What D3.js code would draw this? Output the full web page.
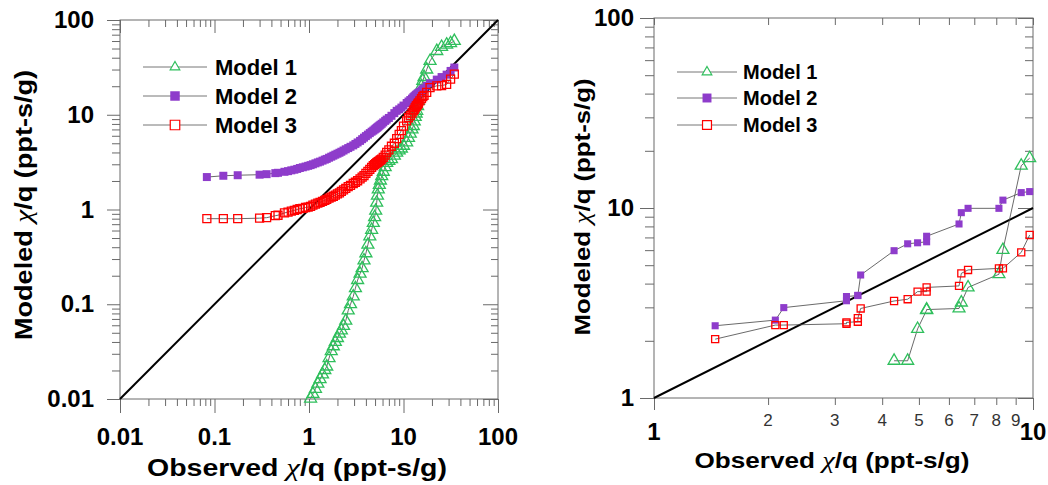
<!DOCTYPE html>
<html>
<head>
<meta charset="utf-8">
<script src="https://cdn.jsdelivr.net/npm/d3@7"></script>
<style>
  body { margin: 0; background: #fff; }
  text { font-family: "Liberation Sans", Arial, sans-serif; }
</style>
</head>
<body>
<div id="chart"></div>
<script>
// ---- data ----
var seriesNames = ["Model 1", "Model 2", "Model 3"];

// left panel: all data, sorted observed vs sorted modeled
var leftObserved = [0.083, 0.124, 0.176, 0.30, 0.356, 0.44, 0.47, 0.55, 0.60, 0.65,
  0.70, 0.75, 0.80, 0.86, 0.92, 0.98, 1.04, 1.10, 1.17, 1.24,
  1.31, 1.39, 1.47, 1.54, 1.63, 1.72, 1.81, 1.90, 2.0, 2.1,
  2.2, 2.32, 2.45, 2.6, 2.75, 2.94, 3.1, 3.27, 3.47, 3.65,
  3.82, 4.0, 4.2, 4.4, 4.6, 4.79, 4.95, 5.08, 5.2, 5.3,
  5.41, 5.55, 5.7, 5.88, 6.11, 6.4, 6.64, 7.0, 7.46, 8.0,
  8.47, 9.0, 9.5, 10.0, 10.8, 11.3, 11.8, 12.3, 12.7, 13.0,
  13.3, 13.6, 13.8, 14.1, 14.4, 14.9, 15.5, 16.0, 16.5, 17.6,
  19.1, 22.5, 25.3, 28.6, 31.5, 34.5];
var leftModel1 = [null, null, null, null, null, null, null, null, null, null,
  null, null, null, null, null, null, 0.0101, 0.0113, 0.0128, 0.0145,
  0.0162, 0.0182, 0.0202, 0.022, 0.027, 0.032, 0.036, 0.040, 0.044, 0.049,
  0.053, 0.059, 0.067, 0.086, 0.100, 0.121, 0.148, 0.180, 0.210, 0.240,
  0.290, 0.345, 0.425, 0.52, 0.61, 0.72, 0.83, 0.97, 1.18, 1.40,
  1.63, 1.82, 2.02, 2.25, 2.5, 2.8, 3.1, 3.25, 3.4, 3.7,
  3.98, 4.2, 4.4, 4.7, 5.1, 5.7, 6.3, 7.0, 7.6, 8.5,
  9.5, 10.3, 11.0, 12.3, 14.0, 17.0, 20.0, 22.8, 25.0, 30.0,
  37.0, 47.0, 52.0, 55.0, 57.0, 60.0];
var leftModel2 = [2.20, 2.27, 2.30, 2.33, 2.36, 2.42, 2.44, 2.50, 2.54, 2.59,
  2.63, 2.68, 2.74, 2.79, 2.84, 2.89, 2.94, 3.00, 3.07, 3.14,
  3.20, 3.28, 3.36, 3.42, 3.52, 3.61, 3.70, 3.79, 3.88, 3.97,
  4.07, 4.19, 4.32, 4.45, 4.59, 4.75, 4.92, 5.10, 5.30, 5.52,
  5.73, 5.95, 6.17, 6.40, 6.62, 6.80, 6.98, 7.12, 7.26, 7.37,
  7.50, 7.66, 7.83, 8.03, 8.30, 8.62, 8.90, 9.25, 9.75, 10.4,
  11.0, 11.4, 11.9, 12.5, 13.3, 13.8, 14.3, 14.8, 15.3, 15.6,
  15.9, 16.2, 16.4, 16.7, 17.0, 17.4, 18.0, 18.5, 19.0, 20.2,
  21.5, 23.5, 25.0, 26.5, 29.0, 31.5];
var leftModel3 = [0.80, 0.80, 0.80, 0.81, 0.82, 0.86, 0.87, 0.92, 0.94, 0.96,
  0.98, 1.00, 1.02, 1.03, 1.05, 1.06, 1.08, 1.11, 1.14, 1.17,
  1.19, 1.22, 1.25, 1.28, 1.32, 1.35, 1.38, 1.42, 1.46, 1.50,
  1.55, 1.61, 1.67, 1.74, 1.80, 1.88, 1.94, 2.01, 2.10, 2.20,
  2.28, 2.40, 2.52, 2.65, 2.78, 2.90, 2.98, 3.05, 3.10, 3.14,
  3.20, 3.26, 3.33, 3.40, 3.55, 3.75, 4.00, 4.25, 4.65, 5.00,
  5.60, 6.20, 6.80, 7.60, 8.60, 9.30, 9.80, 10.4, 11.0, 11.4,
  11.9, 12.3, 12.5, 12.9, 13.3, 14.0, 14.8, 15.5, 16.0, 17.2,
  19.3, 20.2, 20.3, 20.9, 23.8, 26.8];

// right panel: subset 1 - 10
var rightObserved = [1.45, 2.09, 2.2, 3.22, 3.22, 3.45, 3.45, 3.51, 4.3, 4.67,
  4.96, 5.24, 5.24, 6.38, 6.47, 6.74, 8.13, 8.33, 9.31, 9.8];
var rightModel1 = [null, null, null, null, null, null, null, null, 1.57, 1.57,
  2.31, 2.90, 2.92, 2.96, 3.18, 3.82, 4.48, 6.01, 16.7, 18.3];
var rightModel2 = [2.40, 2.57, 2.99, 3.25, 3.42, 3.46, 3.47, 4.44, 5.96, 6.48,
  6.56, 6.64, 7.10, 8.24, 9.45, 9.96, 9.96, 11.0, 12.05, 12.2];
var rightModel3 = [2.04, 2.42, 2.42, 2.46, 2.50, 2.52, 2.63, 2.96, 3.24, 3.31,
  3.63, 3.63, 3.82, 3.89, 4.53, 4.72, 4.81, 4.81, 5.84, 7.21];

var leftTicks = [0.01, 0.1, 1, 10, 100];
var leftTickLabels = ["0.01", "0.1", "1", "10", "100"];
var rightYTicks = [1, 10, 100];
var rightYTickLabels = ["1", "10", "100"];
var rightXTicks = [1, 10];
var rightXTickLabels = ["1", "10"];
var rightXMinor = [2, 3, 4, 5, 6, 7, 8, 9];
var rightXMinorLabels = ["2", "3", "4", "5", "6", "7", "8", "9"];

var colors = ["#2fbf5c", "#8e3ccb", "#ff0000"];
var frameColor = "#6a6a6a";

var svg = d3.select("#chart").append("svg")
    .attr("width", 1048)
    .attr("height", 485);

svg.append("rect").attr("width", 1048).attr("height", 485).attr("fill", "#fff");

function minorsOf(scale, majors) {
    return scale.ticks().filter(function (t) {
        return majors.indexOf(t) < 0;
    });
}

function drawFrame(g, x, y, xMajor, yMajor, tk) {
    var x0 = x.range()[0], x1 = x.range()[1];
    var y0 = y.range()[0], y1 = y.range()[1];
    var xMinor = minorsOf(x, xMajor), yMinor = minorsOf(y, yMajor);

    var axes = [
        { ax: d3.axisBottom(x), tr: "translate(0," + y0 + ")", maj: tk.bMaj, min: tk.bMin, vals: [xMajor, xMinor] },
        { ax: d3.axisTop(x), tr: "translate(0," + y1 + ")", maj: -tk.tMaj, min: -tk.tMin, vals: [xMajor, xMinor] },
        { ax: d3.axisLeft(y), tr: "translate(" + x0 + ",0)", maj: tk.lMaj, min: tk.lMin, vals: [yMajor, yMinor] },
        { ax: d3.axisRight(y), tr: "translate(" + x1 + ",0)", maj: -tk.rMaj, min: -tk.rMin, vals: [yMajor, yMinor] }
    ];
    axes.forEach(function (a) {
        [0, 1].forEach(function (i) {
            var ax = g.append("g").attr("transform", a.tr)
                .call(a.ax.tickValues(a.vals[i]).tickSize(i === 0 ? a.maj : a.min)
                    .tickFormat("").tickSizeOuter(0));
            ax.select(".domain").remove();
            ax.selectAll("line").attr("stroke", frameColor);
        });
    });

    g.append("rect")
        .attr("x", x0).attr("y", y1)
        .attr("width", x1 - x0).attr("height", y0 - y1)
        .attr("fill", "none")
        .attr("stroke", frameColor)
        .attr("stroke-width", 1);
}

function markerPath(i, size) {
    if (i === 0) return d3.symbol().type(d3.symbolTriangle).size(size.tri)();
    return d3.symbol().type(d3.symbolSquare).size(size.sq)();
}

function drawSeries(g, x, y, obs, models, size) {
    var line = d3.line()
        .defined(function (d) { return d[1] != null; })
        .x(function (d) { return x(d[0]); })
        .y(function (d) { return y(d[1]); });

    models.forEach(function (vals, i) {
        var pts = obs.map(function (o, k) { return [o, vals[k]]; });
        g.append("path")
            .datum(pts)
            .attr("d", line)
            .attr("fill", "none")
            .attr("stroke", "#444")
            .attr("stroke-width", 0.8);

        g.selectAll(".m" + i)
            .data(pts.filter(function (d) { return d[1] != null; }))
            .enter().append("path")
            .attr("transform", function (d) {
                return "translate(" + x(d[0]) + "," + y(d[1]) + ")";
            })
            .attr("d", markerPath(i, size))
            .attr("fill", i === 1 ? colors[1] : "none")
            .attr("stroke", colors[i])
            .attr("stroke-width", i === 1 ? 0 : 1.3);
    });
}

function drawLegend(g, lx0, lx1, tx, rows, fs, size) {
    seriesNames.forEach(function (name, i) {
        var yy = rows[i];
        g.append("line")
            .attr("x1", lx0).attr("x2", lx1)
            .attr("y1", yy).attr("y2", yy)
            .attr("stroke", "#777").attr("stroke-width", 1);
        g.append("path")
            .attr("transform", "translate(" + ((lx0 + lx1) / 2) + "," + yy + ")")
            .attr("d", markerPath(i, size))
            .attr("fill", i === 1 ? colors[1] : "#fff")
            .attr("stroke", colors[i])
            .attr("stroke-width", i === 1 ? 0 : 1.2);
        g.append("text")
            .attr("x", tx).attr("y", yy + fs * 0.36)
            .attr("font-size", fs + "px")
            .attr("font-weight", "bold")
            .attr("fill", "#000")
            .text(name);
    });
}

function title(g, x, y, rot, len, fs, first) {
    var t = g.append("text")
        .attr("transform", "translate(" + x + "," + y + ")" + (rot ? " rotate(-90)" : ""))
        .attr("text-anchor", "middle")
        .attr("font-size", fs + "px")
        .attr("font-weight", "bold")
        .attr("fill", "#000")
        .attr("textLength", len)
        .attr("lengthAdjust", "spacingAndGlyphs");
    t.append("tspan").text(first + " ");
    t.append("tspan")
        .attr("font-family", "'Liberation Serif', serif")
        .attr("font-style", "italic")
        .attr("font-weight", "normal")
        .attr("font-size", (fs + 2) + "px")
        .text("\u03c7");
    t.append("tspan").text("/q (ppt-s/g)");
}

// ---------- left panel ----------
var xL = d3.scaleLog().domain([0.01, 100]).range([120, 498]);
var yL = d3.scaleLog().domain([0.01, 100]).range([399, 20]);
var gL = svg.append("g");

drawFrame(gL, xL, yL, leftTicks, leftTicks,
    { bMaj: 14, bMin: 7, tMaj: 13, tMin: 7, lMaj: 13, lMin: 8, rMaj: 15, rMin: 7 });

gL.selectAll(".xl").data(leftTicks).enter().append("text")
    .attr("x", function (d) { return xL(d); })
    .attr("y", 445)
    .attr("text-anchor", "middle")
    .attr("font-size", "24px").attr("font-weight", "bold")
    .text(function (d, i) { return leftTickLabels[i]; });

gL.selectAll(".yl").data(leftTicks).enter().append("text")
    .attr("x", 94)
    .attr("y", function (d) { return yL(d) + 8; })
    .attr("text-anchor", "end")
    .attr("font-size", "24px").attr("font-weight", "bold")
    .text(function (d, i) { return leftTickLabels[i]; });

gL.append("line")
    .attr("x1", xL(0.01)).attr("y1", yL(0.01))
    .attr("x2", xL(100)).attr("y2", yL(100))
    .attr("stroke", "#000").attr("stroke-width", 2);

drawSeries(gL, xL, yL, leftObserved, [leftModel1, leftModel2, leftModel3], { tri: 62, sq: 64 });
drawLegend(gL, 143, 207, 215, [67, 96, 125], 22, { tri: 40, sq: 90 });

title(gL, 297, 476, false, 300, 23, "Observed");
title(gL, 32, 205, true, 270, 23, "Modeled");

// ---------- right panel ----------
var xR = d3.scaleLog().domain([1, 10]).range([654, 1033]);
var yR = d3.scaleLog().domain([1, 100]).range([398, 18]);
var gR = svg.append("g");

drawFrame(gR, xR, yR, rightXTicks, rightYTicks,
    { bMaj: 12, bMin: 7, tMaj: 7, tMin: 7, lMaj: 14, lMin: 9, rMaj: 15, rMin: 8 });

gR.selectAll(".xl").data(rightXTicks).enter().append("text")
    .attr("x", function (d) { return xR(d); })
    .attr("y", 440)
    .attr("text-anchor", "middle")
    .attr("font-size", "24px").attr("font-weight", "bold")
    .text(function (d, i) { return rightXTickLabels[i]; });

gR.selectAll(".xm").data(rightXMinor).enter().append("text")
    .attr("x", function (d) { return xR(d); })
    .attr("y", 426)
    .attr("text-anchor", "middle")
    .attr("font-size", "17px")
    .attr("fill", "#333")
    .text(function (d, i) { return rightXMinorLabels[i]; });

gR.selectAll(".yl").data(rightYTicks).enter().append("text")
    .attr("x", 634)
    .attr("y", function (d) { return yR(d) + 8; })
    .attr("text-anchor", "end")
    .attr("font-size", "24px").attr("font-weight", "bold")
    .text(function (d, i) { return rightYTickLabels[i]; });

gR.append("line")
    .attr("x1", xR(1)).attr("y1", yR(1))
    .attr("x2", xR(10)).attr("y2", yR(10))
    .attr("stroke", "#000").attr("stroke-width", 2);

drawSeries(gR, xR, yR, rightObserved, [rightModel1, rightModel2, rightModel3], { tri: 62, sq: 50 });
drawLegend(gR, 677, 737, 743, [72, 98, 125], 20, { tri: 40, sq: 80 });

title(gR, 832, 468, false, 275, 22, "Observed");
title(gR, 590, 207, true, 257, 22, "Modeled");
</script>
</body>
</html>
